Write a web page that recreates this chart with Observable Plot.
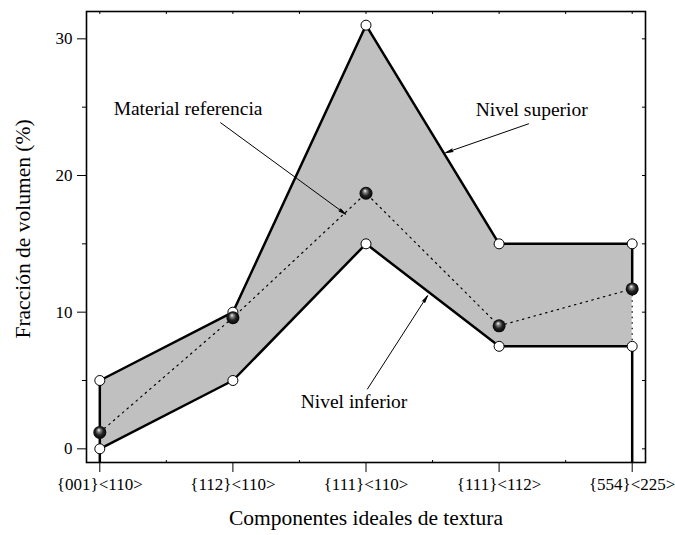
<!DOCTYPE html>
<html>
<head>
<meta charset="utf-8">
<script src="https://cdn.jsdelivr.net/npm/d3@7"></script>
<script src="https://cdn.jsdelivr.net/npm/@observablehq/plot@0.6"></script>
<style>
  html, body { margin: 0; padding: 0; background: #fff; }
</style>
</head>
<body>
<div id="chart"></div>
<script>
// ---- data ----
const categories = ["{001}<110>", "{112}<110>", "{111}<110>", "{111}<112>", "{554}<225>"];
const upper = [5, 10, 31, 15, 15];        // Nivel superior
const lower = [0, 5, 15, 7.5, 7.5];       // Nivel inferior
const reference = [1.2, 9.6, 18.7, 9.0, 11.7]; // Material referencia
const yTicks = [0, 10, 20, 30];
const yMinorTicks = [5, 15, 25];
const xMinorTicks = [1.5, 2.5, 3.5, 4.5];
const annotationText = ["Material referencia", "Nivel superior", "Nivel inferior"];
const annotationX = [1.663, 4.245, 2.91];
const annotationY = [24.42, 24.35, 3.02];
const arrowX1 = [1.908, 4.221, 3.011];
const arrowY1 = [23.86, 23.78, 4.38];
const arrowX2 = [2.847, 3.599, 3.462];
const arrowY2 = [17.17, 21.67, 11.2];
const xDomain = [0.9, 5.1];
const yDomain = [-1, 32];

const data = categories.map((c, i) => ({pos: i + 1, cat: c, upper: upper[i], lower: lower[i], ref: reference[i]}));
const annotations = annotationText.map((t, i) => ({text: t, x: annotationX[i], y: annotationY[i]}));
const arrows = arrowX1.map((d, i) => ({x1: d, y1: arrowY1[i], x2: arrowX2[i], y2: arrowY2[i]}));
const last = data[data.length - 1];
const first = data[0];
const allY = d3.range(0, 31, 5);
const allX = d3.range(1, 5.01, 0.5);

const serif = "'Liberation Serif', 'Times New Roman', serif";

const plot = Plot.plot({
  width: 675,
  height: 535,
  marginLeft: 86,
  marginRight: 30,
  marginTop: 11,
  marginBottom: 73,
  style: {fontFamily: serif, fontSize: "17px", background: "white", color: "black"},
  x: {type: "linear", domain: xDomain},
  y: {domain: yDomain},
  marks: [
    Plot.areaY(data, {x: "pos", y1: "lower", y2: "upper", fill: "#c0c0c0"}),
    // verticals at the ends
    Plot.ruleX([first], {x: "pos", y1: yDomain[0], y2: "upper", stroke: "black", strokeWidth: 2.5}),
    Plot.ruleX([last], {x: "pos", y1: "ref", y2: "upper", stroke: "black", strokeWidth: 2.5}),
    Plot.ruleX([last], {x: "pos", y1: "lower", y2: "ref", stroke: "black", strokeWidth: 1.2, strokeDasharray: "1.5,4"}),
    Plot.ruleX([last], {x: "pos", y1: yDomain[0], y2: "lower", stroke: "black", strokeWidth: 2.5}),
    // upper and lower limits
    Plot.line(data, {x: "pos", y: "upper", stroke: "black", strokeWidth: 2.5}),
    Plot.line(data, {x: "pos", y: "lower", stroke: "black", strokeWidth: 2.5}),
    // reference material dotted line
    Plot.line(data, {x: "pos", y: "ref", stroke: "black", strokeWidth: 1.2, strokeDasharray: "1.5,4.5"}),
    // markers
    Plot.dot(data, {x: "pos", y: "upper", r: 5, fill: "white", stroke: "black", strokeWidth: 1}),
    Plot.dot(data, {x: "pos", y: "lower", r: 5, fill: "white", stroke: "black", strokeWidth: 1}),
    Plot.dot(data, {x: "pos", y: "ref", r: 6.5, fill: "url(#ball)", stroke: "none"}),
    // annotations
    Plot.arrow(arrows, {x1: "x1", y1: "y1", x2: "x2", y2: "y2", stroke: "black", fill: "black", strokeWidth: 1, headLength: 11, headAngle: 22}),
    Plot.text(annotations, {x: "x", y: "y", text: "text", fontSize: 19.5, lineAnchor: "bottom", fill: "black", fontFamily: serif}),
    Plot.frame({stroke: "black", strokeWidth: 1.6}),
    // axes
    Plot.axisY({ticks: yTicks, tickSize: 9, tickPadding: 5, fontSize: 17, label: null, anchor: "left"}),
    Plot.axisY({ticks: yMinorTicks, tickSize: 4, tickFormat: () => "", label: null, anchor: "left"}),
    Plot.axisY({ticks: allY, tickSize: -4, tickFormat: () => "", label: null, anchor: "right"}),
    Plot.axisX({ticks: data.map(d => d.pos), tickSize: 10, tickPadding: 5, fontSize: 17, tickFormat: d => categories[d - 1], label: null, anchor: "bottom"}),
    Plot.axisX({ticks: xMinorTicks, tickSize: -2, tickFormat: () => "", label: null, anchor: "bottom"}),
    Plot.axisX({ticks: allX, tickSize: -2, tickFormat: () => "", label: null, anchor: "top"}),
    // axis titles
    Plot.text(["Componentes ideales de textura"], {frameAnchor: "bottom", text: d => d, dy: 62, lineAnchor: "bottom", textAnchor: "middle", fontSize: 21.5, fontFamily: serif}),
    Plot.text(["Fracción de volumen (%)"], {frameAnchor: "left", text: d => d, dx: -57, dy: -8, rotate: -90, lineAnchor: "bottom", textAnchor: "middle", fontSize: 21.5, fontFamily: serif})
  ]
});

const defs = d3.select(plot).insert("defs", ":first-child");
const grad = defs.append("radialGradient").attr("id", "ball").attr("cx", "0.5").attr("cy", "0.5").attr("r", "0.55").attr("fx", "0.42").attr("fy", "0.3");
grad.append("stop").attr("offset", "0").attr("stop-color", "#ffffff");
grad.append("stop").attr("offset", "0.22").attr("stop-color", "#8a8a8a");
grad.append("stop").attr("offset", "0.55").attr("stop-color", "#222222");
grad.append("stop").attr("offset", "1").attr("stop-color", "#000000");

document.getElementById("chart").appendChild(plot);
</script>
</body>
</html>
